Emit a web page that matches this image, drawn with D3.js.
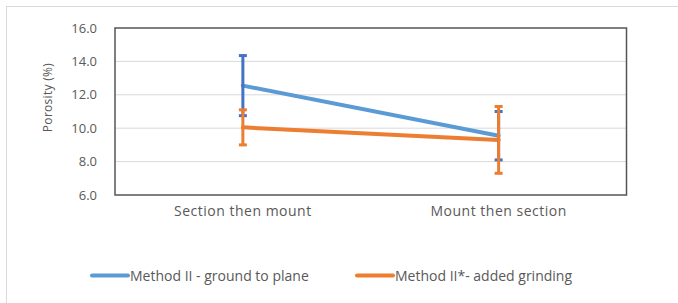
<!DOCTYPE html>
<html><head><meta charset="utf-8">
<script src="https://cdn.jsdelivr.net/npm/d3@7"></script>
<style>body{margin:0;background:#fff}svg{display:block}text{font-family:"Open Sans",sans-serif;fill:#595959}</style>
</head><body>
<svg id="c" width="678" height="303"></svg>
<script>
const categories = ["Section then mount", "Mount then section"];
const seriesNames = ["Method II - ground to plane", "Method II*- added grinding"];
const method2 = [12.55, 9.55];
const method2Err = [1.8, 1.45];
const method2s = [10.05, 9.3];
const method2sErr = [1.05, 2.0];
const yTicks = [6, 8, 10, 12, 14, 16];

const svg = d3.select("#c");
const L = 115, T = 28, R = 626.5, B = 195;
const x = d3.scaleBand().domain(categories).range([L, R]);
const y = d3.scaleLinear().domain([6, 16]).range([B, T]);

// outer chart border
svg.append("rect").attr("x", 6.5).attr("y", 6.5).attr("width", 700).attr("height", 320)
  .attr("fill", "none").attr("stroke", "#d9d9d9").attr("stroke-width", 1);

// gridlines
svg.append("g").selectAll("line").data(yTicks.slice(1, -1)).join("line")
  .attr("x1", L).attr("x2", R).attr("y1", d => y(d)).attr("y2", d => y(d))
  .attr("stroke", "#d9d9d9").attr("stroke-width", 1);

// y axis labels
const ya = svg.append("g").attr("transform", `translate(${L},0)`)
  .call(d3.axisLeft(y).tickValues(yTicks).tickFormat(d3.format(".1f")).tickSize(0).tickPadding(18));
ya.select(".domain").remove();
ya.selectAll("text").style("font-size", "13px").style("fill", "#595959").style("font-family", '"Open Sans",sans-serif');

// x axis labels
const xa = svg.append("g").attr("transform", `translate(0,${B})`)
  .call(d3.axisBottom(x).tickSize(0).tickPadding(11));
xa.select(".domain").remove();
xa.selectAll("text").style("font-size", "14px").style("letter-spacing", "0.5px").style("fill", "#595959").style("font-family", '"Open Sans",sans-serif');

// plot border
svg.append("rect").attr("x", L).attr("y", T).attr("width", R - L).attr("height", B - T)
  .attr("fill", "none").attr("stroke", "#555").attr("stroke-width", 1.5);

// y title
svg.append("text").attr("transform", `translate(47,${(T + B) / 2 - 14}) rotate(-90)`)
  .attr("text-anchor", "middle").attr("dominant-baseline", "central")
  .style("font-size", "12px").style("letter-spacing", "0.3px").text("Porosity (%)");

const cx = d => x(d) + x.bandwidth() / 2;
const series = [
  {vals: method2, err: method2Err, line: "#5b9bd5", ebar: "#4472c4"},
  {vals: method2s, err: method2sErr, line: "#ed7d31", ebar: "#ed7d31"}
];
const lineGen = d3.line().x((d, i) => cx(categories[i])).y(d => y(d));

series.forEach(s => {
  svg.append("path").datum(s.vals).attr("d", lineGen).attr("fill", "none")
    .attr("stroke", s.line).attr("stroke-width", 4).attr("stroke-linecap", "round");
});
series.forEach(s => {
  const g = svg.append("g").attr("stroke", s.ebar).attr("stroke-width", 3);
  s.vals.forEach((v, i) => {
    const px = cx(categories[i]);
    g.append("line").attr("x1", px).attr("x2", px).attr("y1", y(v + s.err[i])).attr("y2", y(v - s.err[i]));
    [v + s.err[i], v - s.err[i]].forEach(e => {
      g.append("line").attr("x1", px - 4).attr("x2", px + 4).attr("y1", y(e)).attr("y2", y(e));
    });
  });
});

// legend
const leg = [{x: 92, c: "#5b9bd5"}, {x: 357, c: "#ed7d31"}];
leg.forEach((l, i) => {
  svg.append("line").attr("x1", l.x).attr("x2", l.x + 36).attr("y1", 275.5).attr("y2", 275.5)
    .attr("stroke", l.c).attr("stroke-width", 4).attr("stroke-linecap", "round");
  svg.append("text").attr("x", l.x + 38).attr("y", 275.5).attr("dominant-baseline", "central")
    .style("font-size", "14px").text(seriesNames[i]);
});
</script>
</body></html>
